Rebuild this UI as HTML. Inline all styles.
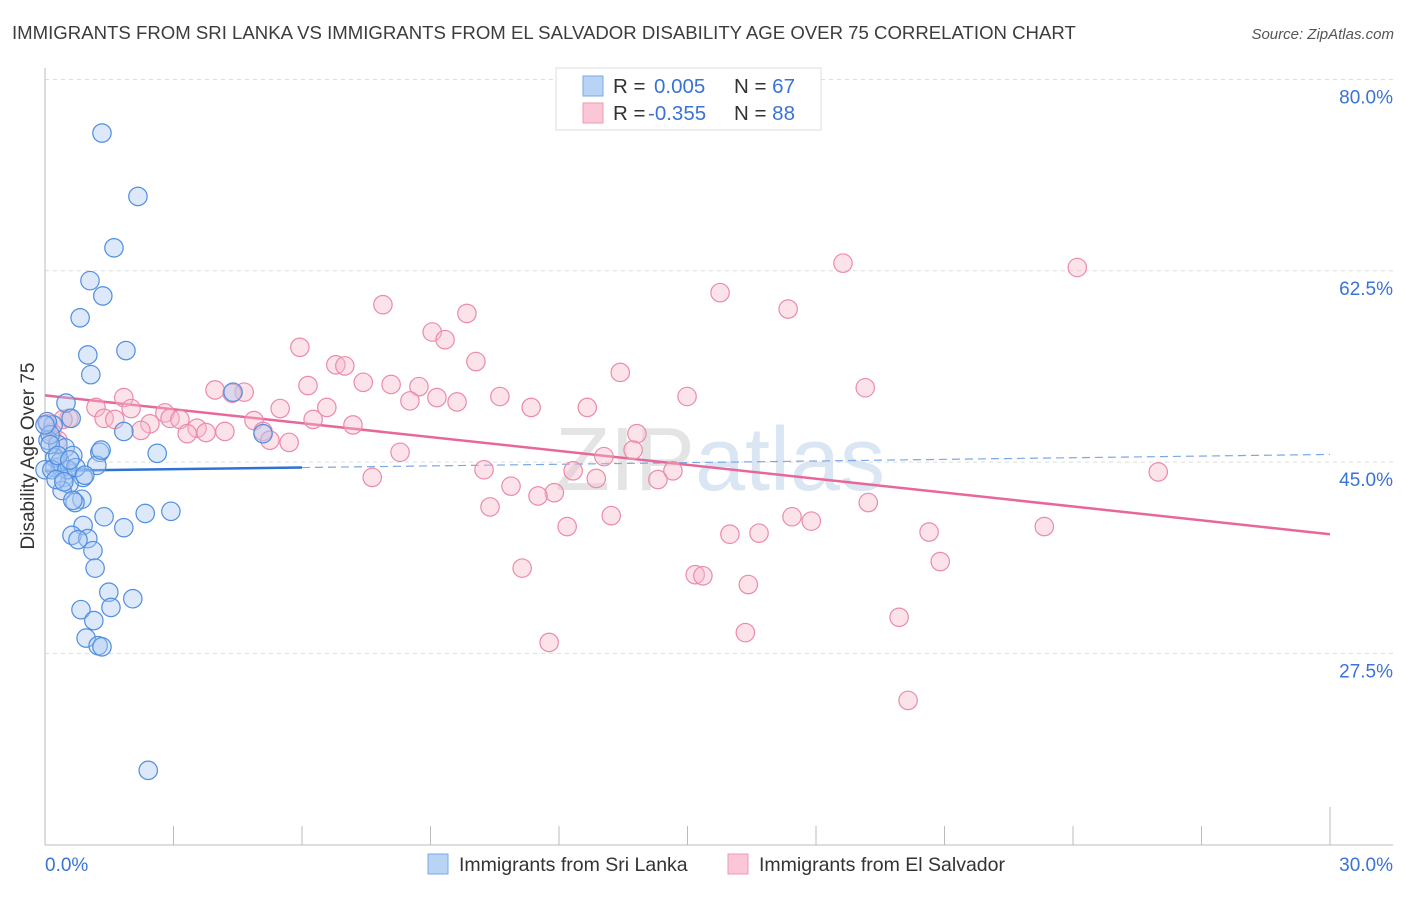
<!DOCTYPE html>
<html><head><meta charset="utf-8"><style>
body{margin:0;background:#fff;font-family:"Liberation Sans",sans-serif;}
svg text{font-family:"Liberation Sans",sans-serif;}
</style></head><body>
<svg id="chart" width="1406" height="892" viewBox="0 0 1406 892" xmlns="http://www.w3.org/2000/svg">
<text x="12" y="39" font-size="18.6" fill="#3c3c3c">IMMIGRANTS FROM SRI LANKA VS IMMIGRANTS FROM EL SALVADOR DISABILITY AGE OVER 75 CORRELATION CHART</text>
<text x="1394" y="39" font-size="15" fill="#555" text-anchor="end" font-style="italic">Source: ZipAtlas.com</text>
<text x="720" y="490" font-size="90" fill="#e4e4e4" text-anchor="middle" font-family="Liberation Serif">ZIP<tspan fill="#dbe6f4" font-family="Liberation Sans">atlas</tspan></text>
<g id="grid"></g>
<g id="axes"></g>
<g id="trend"></g>
<g id="points"></g>
<text transform="translate(34,456) rotate(-90)" font-size="19" fill="#333" text-anchor="middle">Disability Age Over 75</text>
<g>
<rect x="556" y="68" width="265" height="62" fill="#fff" stroke="#ddd"/>
<rect x="583" y="76" width="20" height="20" fill="#b8d4f5" stroke="#7aa8e6"/>
<rect x="583" y="103" width="20" height="20" fill="#fbc7d6" stroke="#ee9ab4"/>
<text x="613" y="93" font-size="20.5" fill="#333">R = <tspan fill="#3a73d6" x="654">0.005</tspan><tspan fill="#333" x="734">N = </tspan><tspan fill="#3a73d6">67</tspan></text>
<text x="613" y="120" font-size="20.5" fill="#333">R = <tspan fill="#3a73d6" x="648">-0.355</tspan><tspan fill="#333" x="734">N = </tspan><tspan fill="#3a73d6">88</tspan></text>
</g>
<g>
<rect x="428" y="854" width="20" height="20" fill="#b8d4f5" stroke="#7aa8e6"/>
<text x="459" y="871" font-size="19.5" fill="#333">Immigrants from Sri Lanka</text>
<rect x="728" y="854" width="20" height="20" fill="#fbc7d6" stroke="#ee9ab4"/>
<text x="759" y="871" font-size="19.5" fill="#333">Immigrants from El Salvador</text>
</g>
</svg>
<script>
const yTicks=[80,62.5,45,27.5];
const yTickLabels=["80.0%","62.5%","45.0%","27.5%"];
const xTickLabels=["0.0%","30.0%"];
const blueX=[1.33,2.17,1.61,1.05,1.35,0.82,1.89,1.00,1.07,0.49,4.39,1.84,5.09,2.62,0.61,0.19,0.07,0.30,0.47,0.65,1.28,1.21,0.35,0.54,0.23,0.44,0.89,0.56,0.40,0.86,0.70,1.38,2.34,2.94,1.84,0.89,0.63,1.00,0.77,1.12,1.17,1.49,2.05,0.84,1.54,1.14,0.96,1.24,1.33,2.41,0.05,0.12,0.23,0.35,0.00,0.16,0.51,0.00,0.12,0.26,0.44,1.31,0.72,0.65,0.93,0.30,0.58];
const blueY=[75.1,69.3,64.6,61.6,60.2,58.2,55.2,54.8,53.0,50.4,51.4,47.8,47.6,45.8,49.0,48.4,47.0,46.6,46.3,45.6,45.9,44.7,44.6,44.3,44.5,43.6,43.6,43.0,42.4,41.6,41.3,40.0,40.3,40.5,39.0,39.2,38.3,38.0,37.9,36.9,35.3,33.1,32.5,31.5,31.7,30.5,28.9,28.2,28.1,16.8,48.7,47.5,45.4,45.0,44.3,44.3,44.3,48.4,46.6,43.4,43.2,46.1,44.5,41.5,43.8,45.6,45.2];
const pinkX=[18.63,24.10,7.89,15.76,9.85,17.35,9.04,9.34,5.95,6.79,7.00,10.06,13.43,7.43,8.08,8.73,6.14,3.97,4.65,4.37,19.15,1.84,10.62,14.99,8.52,9.15,9.62,11.35,12.66,5.49,6.58,1.19,2.01,1.38,1.63,2.80,2.92,3.15,6.26,0.56,0.42,4.88,2.45,7.19,2.24,3.55,4.20,3.76,3.32,5.09,0.16,0.30,5.25,5.70,13.82,8.29,13.73,13.05,14.66,10.25,12.33,7.64,14.31,12.87,10.88,11.89,11.51,10.39,19.22,25.99,13.22,17.44,17.89,12.19,15.99,16.67,20.64,23.33,20.90,11.14,15.18,15.36,16.42,19.94,16.35,11.77,20.15,0.07];
const pinkY=[63.2,62.8,59.4,60.5,58.6,59.0,56.9,56.2,55.5,53.9,53.8,54.2,53.2,52.3,52.1,51.9,52.0,51.6,51.4,51.3,51.8,50.9,51.0,51.0,50.6,50.9,50.5,50.0,50.0,49.9,50.0,50.0,49.9,49.0,48.9,49.5,49.0,48.9,48.9,49.0,48.9,48.8,48.5,48.4,47.9,48.1,47.8,47.7,47.6,47.8,47.7,47.0,47.0,46.8,47.6,45.9,46.1,45.5,44.2,44.3,44.2,43.6,43.4,43.5,42.8,42.2,41.9,40.9,41.3,44.1,40.1,40.0,39.6,39.1,38.4,38.5,38.6,39.1,35.9,35.3,34.7,34.6,33.8,30.8,29.4,28.5,23.2,48.5];
const blueTrend=[44.2,45.7];
const pinkTrend=[51.1,38.4];
const NS="http://www.w3.org/2000/svg";
const X0=45,X1=1330,YB=954,YPX=191.3/17.5;
function sx(v){return X0+v/30*(X1-X0);}
function sy(v){return YB-v*YPX;}
function mk(tag,attrs,parent){const e=document.createElementNS(NS,tag);for(const k in attrs)e.setAttribute(k,attrs[k]);parent.appendChild(e);return e;}
const grid=document.getElementById('grid'),axes=document.getElementById('axes'),trend=document.getElementById('trend'),pts=document.getElementById('points');
yTicks.forEach((t,i)=>{
 const l=mk('line',{x1:45,x2:1393,y1:sy(t),y2:sy(t),stroke:'#ddd','stroke-dasharray':'4,4'},grid);
 
 
 const tx=mk('text',{x:1393,y:sy(t)+24,'font-size':19,fill:'#3a73d6','text-anchor':'end'},grid);
 tx.textContent=yTickLabels[i];
 
 
});
let a=mk('line',{x1:45,x2:45,y1:68,y2:845,stroke:'#bbb'},axes);


a=mk('line',{x1:45,x2:1393,y1:845,y2:845,stroke:'#bbb'},axes);


for(let i=1;i<=10;i++){
 const x=sx(i*3);
 const t=mk('line',{x1:x,x2:x,y1:845,y2:i==10?807:826,stroke:'#bbb'},axes);
 
 
}
let xl=mk('text',{x:45,y:871,'font-size':19,fill:'#3a73d6'},axes);xl.textContent=xTickLabels[0];


xl=mk('text',{x:1393,y:871,'font-size':19,fill:'#3a73d6','text-anchor':'end'},axes);xl.textContent=xTickLabels[1];


function dot(x,y,fill,stroke,name){
 const c=mk('circle',{cx:sx(x),cy:sy(y),r:9.2,fill:fill,'fill-opacity':0.4,stroke:stroke,'stroke-width':1.2},pts);
 
 
}
pinkX.forEach((x,i)=>dot(x,pinkY[i],'#f8b8cb','#ec8aab','el-salvador-point'));
blueX.forEach((x,i)=>dot(x,blueY[i],'#a9c9f2','#4f8ee0','sri-lanka-point'));
const bm=blueTrend[0]+(blueTrend[1]-blueTrend[0])*6/30;
let tl=mk('line',{x1:sx(0),y1:sy(blueTrend[0]),x2:sx(6),y2:sy(bm),stroke:'#2f72d4','stroke-width':2.5},trend);


tl=mk('line',{x1:sx(6),y1:sy(bm),x2:sx(30),y2:sy(blueTrend[1]),stroke:'#7aa8e6','stroke-width':1.2,'stroke-dasharray':'8,5'},trend);


tl=mk('line',{x1:sx(0),y1:sy(pinkTrend[0]),x2:sx(30),y2:sy(pinkTrend[1]),stroke:'#e8679a','stroke-width':2.5},trend);


</script>
</body></html>
